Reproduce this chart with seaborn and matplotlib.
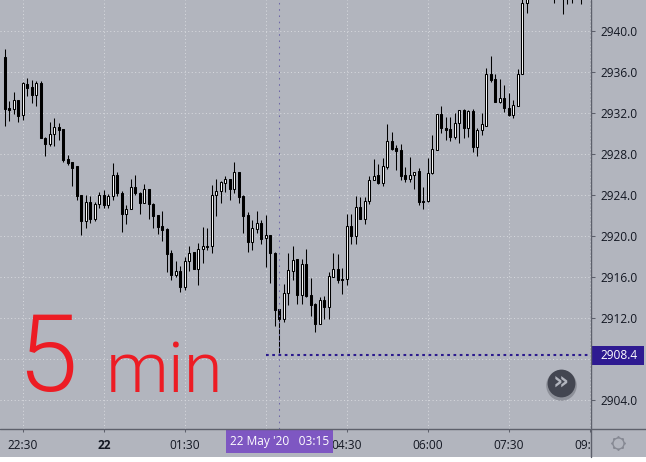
import numpy as np
import pandas as pd
import seaborn as sns
import matplotlib.pyplot as plt
from matplotlib.lines import Line2D
from matplotlib.patches import Rectangle

# OHLC (5 min), swiece poza gorna krawedzia to szacunek
opens = [2937.5, 2932.5, 2932.4, 2933.3, 2931.8, 2934.8, 2934.6, 2933.8, 2934.9, 2929.6,
         2929.0, 2930.0, 2930.7, 2930.5, 2927.5, 2927.2, 2926.8, 2924.0, 2921.5, 2923.3,
         2921.7, 2923.1, 2924.0, 2923.0, 2923.9, 2926.0, 2924.2, 2922.2, 2922.7, 2924.8,
         2924.2, 2923.2, 2924.6, 2923.1, 2922.1, 2921.0, 2920.7, 2918.4, 2916.2, 2916.6,
         2915.0, 2917.6, 2918.5, 2916.8, 2918.8, 2919.0, 2919.0, 2924.0, 2924.4, 2925.2,
         2925.6, 2924.6, 2926.3, 2923.9, 2922.1, 2919.4, 2920.7, 2921.3, 2919.8, 2920.1,
         2918.4, 2912.9, 2911.9, 2914.5, 2916.6, 2917.8, 2914.3, 2917.3, 2914.3, 2913.4,
         2911.4, 2913.8, 2913.1, 2916.0, 2916.8, 2915.8, 2915.8, 2921.0, 2920.0, 2922.8,
         2921.7, 2923.4, 2925.5, 2926.0, 2925.2, 2926.8, 2929.3, 2928.6, 2928.4, 2926.0,
         2925.6, 2926.0, 2926.4, 2923.4, 2923.4, 2926.2, 2928.4, 2931.9, 2930.6, 2930.5,
         2929.7, 2931.0, 2932.3, 2930.6, 2932.2, 2928.7, 2930.4, 2930.8, 2935.8, 2935.3,
         2933.1, 2933.5, 2932.5, 2931.8, 2932.7, 2935.8, 2942.8, 2943.6, 2944.8, 2944.4,
         2944.0, 2944.5, 2943.8, 2943.4, 2943.9, 2943.3, 2943.7, 2943.5, 2944.0]
closes = [2932.4, 2932.3, 2933.3, 2931.7, 2934.9, 2934.5, 2933.8, 2934.9, 2929.6, 2929.0,
          2930.0, 2930.7, 2930.4, 2927.4, 2927.1, 2926.7, 2923.9, 2921.5, 2923.3, 2921.7,
          2923.1, 2924.0, 2923.0, 2923.9, 2926.0, 2924.2, 2922.2, 2922.7, 2924.8, 2924.2,
          2923.2, 2924.6, 2923.1, 2922.0, 2920.9, 2920.6, 2918.3, 2916.2, 2916.6, 2915.0,
          2917.6, 2918.4, 2916.8, 2918.8, 2919.0, 2918.9, 2924.0, 2924.4, 2925.3, 2925.6,
          2924.6, 2926.3, 2923.8, 2922.0, 2919.4, 2920.8, 2921.3, 2919.7, 2920.1, 2918.4,
          2912.8, 2911.9, 2914.5, 2916.7, 2917.7, 2914.3, 2917.3, 2914.2, 2913.3, 2911.4,
          2913.8, 2913.1, 2916.1, 2916.8, 2915.7, 2915.7, 2921.0, 2920.0, 2922.8, 2921.7,
          2923.4, 2925.5, 2925.9, 2925.2, 2926.8, 2929.3, 2928.5, 2928.3, 2925.9, 2925.6,
          2926.0, 2926.3, 2923.3, 2923.3, 2926.2, 2928.5, 2931.9, 2930.6, 2930.4, 2929.7,
          2931.0, 2932.3, 2930.6, 2932.2, 2928.7, 2930.4, 2930.9, 2935.8, 2935.2, 2933.1,
          2933.5, 2932.5, 2931.8, 2932.8, 2935.8, 2942.8, 2943.6, 2944.8, 2944.4, 2944.0,
          2944.5, 2943.8, 2943.4, 2943.9, 2943.3, 2943.7, 2943.5, 2944.0, 2943.4]
highs = [2938.3, 2933.2, 2934.1, 2933.3, 2935.0, 2935.4, 2935.2, 2935.1, 2935.1, 2929.7,
         2931.1, 2931.5, 2931.0, 2930.5, 2927.9, 2927.2, 2926.8, 2924.0, 2924.0, 2923.9,
         2923.3, 2924.3, 2924.5, 2924.1, 2927.1, 2926.3, 2924.4, 2923.0, 2925.6, 2926.0,
         2924.3, 2925.1, 2924.6, 2923.2, 2922.1, 2922.5, 2920.8, 2918.7, 2917.6, 2917.1,
         2918.0, 2919.0, 2918.5, 2919.3, 2920.9, 2920.8, 2925.0, 2925.6, 2925.4, 2925.9,
         2925.6, 2927.2, 2926.3, 2924.0, 2922.4, 2921.6, 2922.5, 2921.6, 2922.1, 2920.1,
         2918.5, 2912.9, 2915.3, 2918.4, 2919.0, 2917.8, 2917.8, 2918.8, 2915.9, 2913.5,
         2914.1, 2914.2, 2916.5, 2918.4, 2918.3, 2916.9, 2922.2, 2922.2, 2923.9, 2923.8,
         2923.8, 2925.9, 2927.5, 2927.0, 2927.6, 2930.9, 2930.2, 2928.9, 2929.0, 2926.8,
         2927.7, 2926.3, 2926.7, 2924.8, 2927.6, 2929.9, 2931.9, 2932.7, 2931.6, 2931.6,
         2932.0, 2932.3, 2932.4, 2932.3, 2932.4, 2930.6, 2932.0, 2936.4, 2937.6, 2935.8,
         2935.3, 2934.8, 2934.0, 2933.3, 2936.3, 2943.1, 2944.4, 2945.2, 2945.6, 2945.1,
         2944.8, 2945.0, 2944.6, 2944.2, 2944.5, 2944.0, 2944.3, 2944.4, 2944.6]
lows = [2930.8, 2931.2, 2931.9, 2931.1, 2931.3, 2933.7, 2933.0, 2932.7, 2929.6, 2927.8,
        2928.8, 2928.8, 2929.4, 2927.2, 2926.9, 2924.9, 2923.5, 2920.1, 2920.8, 2921.3,
        2921.5, 2922.8, 2922.8, 2922.8, 2923.5, 2923.9, 2920.4, 2921.2, 2922.7, 2924.0,
        2922.2, 2923.2, 2921.7, 2920.8, 2920.2, 2919.5, 2916.5, 2915.7, 2916.0, 2914.6,
        2914.8, 2916.6, 2916.8, 2915.2, 2917.4, 2918.7, 2918.4, 2922.0, 2923.2, 2924.3,
        2923.5, 2924.2, 2923.2, 2920.3, 2918.5, 2918.7, 2920.3, 2919.2, 2917.0, 2915.4,
        2911.2, 2908.4, 2911.6, 2913.3, 2915.7, 2913.4, 2913.4, 2914.1, 2912.2, 2910.7,
        2911.4, 2911.9, 2911.9, 2916.0, 2915.4, 2914.4, 2915.2, 2919.2, 2919.2, 2921.7,
        2921.2, 2923.1, 2925.5, 2925.1, 2924.9, 2926.6, 2928.4, 2926.5, 2925.5, 2925.3,
        2925.3, 2924.6, 2923.0, 2922.7, 2923.3, 2926.1, 2928.4, 2930.1, 2929.4, 2929.3,
        2929.5, 2929.1, 2929.6, 2929.7, 2928.2, 2927.8, 2929.9, 2930.8, 2935.0, 2933.1,
        2933.0, 2932.1, 2931.7, 2931.5, 2932.7, 2935.8, 2941.8, 2943.3, 2944.2, 2943.6,
        2943.3, 2943.4, 2942.8, 2943.1, 2941.7, 2942.7, 2942.8, 2943.1, 2942.7]

time_ticks = [4, 22, 40, 58, 76, 94, 112, 130]
# 03:00 i 2908.0 sa zasloniete przez etykiety krzyzyka, wiec zostaja puste
time_labels = ["22:30", "22", "01:30", "", "04:30", "06:00", "07:30", "09:00"]
price_ticks = [2904, 2908, 2912, 2916, 2920, 2924, 2928, 2932, 2936, 2940]
price_labels = ["2904.0", "", "2912.0", "2916.0", "2920.0", "2924.0", "2928.0", "2932.0", "2936.0", "2940.0"]
cross_bar = 61
cross_price = 2908.4
cross_date = "22 May '20   03:15"
cross_start = 58

BG = "#b2b5be"
GRID = "#d6d8dd"
AXIS = "#5d606b"
TEXT = "#131722"
RED = "#ed1c24"

sns.set_theme(style="ticks")
plt.rcParams["font.family"] = ["Open Sans", "DejaVu Sans"]

W, H = 646, 462
fig = plt.figure(figsize=(W / 100, H / 100), dpi=100, facecolor="white")
ax = fig.add_axes([0, 1 - 429 / H, 591 / W, 429 / H], facecolor=BG)
fig.add_artist(Rectangle((0, 1 - 457 / H), 1, 457 / H, transform=fig.transFigure,
                         facecolor=BG, edgecolor="none", zorder=-1))

df = pd.DataFrame({"bar": np.arange(len(opens)), "open": opens, "close": closes,
                   "high": highs, "low": lows})

# knoty
wicks = df.melt(id_vars="bar", value_vars=["high", "low"], value_name="price")
sns.lineplot(data=wicks, x="bar", y="price", units="bar", estimator=None, color="black",
             lw=0.75, solid_capstyle="butt", legend=False, ax=ax, zorder=3)

# korpusy
up = df["close"] >= df["open"]
ax.bar(df["bar"], (df["close"] - df["open"]).abs(), bottom=df[["open", "close"]].min(axis=1),
       width=2 / 4.5, color=np.where(up, "white", "black").tolist(), edgecolor="black",
       linewidth=0.75, zorder=3.2)

ax.set_xlim(-4.9 / 4.5, (591 - 4.9) / 4.5)
ax.set_ylim(2940 - (429 - 31.2) / 10.25, 2940 + 31.2 / 10.25)
ax.set_xlabel("")
ax.set_ylabel("")

ax.set_xticks(time_ticks)
ax.set_xticklabels(time_labels)
ax.yaxis.tick_right()
ax.set_yticks(price_ticks)
ax.set_yticklabels(price_labels)
ax.tick_params(axis="x", length=2.5, width=0.75, color=AXIS, labelcolor=TEXT, labelsize=8.6, pad=5)
ax.tick_params(axis="y", length=3, width=0.75, color=AXIS, labelcolor=TEXT, labelsize=8.6, pad=3.5)
ax.grid(True, color=GRID, lw=0.75, linestyle=(0, (1, 2.4)), zorder=1)
ax.set_axisbelow(True)
for s in ["left", "top", "right", "bottom"]:
    ax.spines[s].set_visible(False)

labels = ax.get_xticklabels()
labels[1].set_fontweight("bold")
labels[-1].set_clip_on(True)
labels[-1].set_clip_path(Rectangle((0, -1), 1, 2, transform=ax.transAxes))

# ramka osi
for xs, ys in [((0, 1), (1 - 429 / H, 1 - 429 / H)), ((591 / W, 591 / W), (1 - 457 / H, 1))]:
    fig.add_artist(Line2D(xs, ys, transform=fig.transFigure, color=AXIS, lw=1.0, zorder=0.5))

# krzyzyk
ax.axvline(cross_bar, color="#6f68a8", lw=0.75, linestyle=(0, (1.5, 4.5)), zorder=4)
ax.hlines(cross_price, cross_start, ax.get_xlim()[1], color="#2b1a8e", lw=1.5,
          linestyle=(0, (1.3, 1.7)), zorder=4)

# etykiety krzyzyka
ytr = ax.get_yaxis_transform()
xtr = ax.get_xaxis_transform()
ax.add_patch(Rectangle((1, cross_price - 0.92), 53 / 591, 1.84, transform=ytr, clip_on=False,
                       facecolor="#2e1a91", edgecolor="none", zorder=6))
ax.text(1 + 9 / 591, cross_price - 0.03, f"{cross_price:.1f}", transform=ytr, color="white", fontsize=8.6,
        va="center", ha="left", zorder=7, clip_on=False)
ax.add_patch(Rectangle((cross_bar - 53.5 / 4.5, -24 / 429), 107 / 4.5, 24 / 429, transform=xtr, clip_on=False,
                       facecolor="#7e57c2", edgecolor="none", zorder=6))
ax.text(cross_bar, -12 / 429, cross_date, transform=xtr, color="white", fontsize=8.6, ha="center",
        va="center", zorder=7, clip_on=False)

# odrecznie dopisane "5 min"
ax.text(2.7, 2904.9, "5", color=RED, fontsize=78, family="Roboto", fontweight=300, va="baseline", zorder=5)
ax.text(22.5, 2904.8, "min", color=RED, fontsize=51, family="Roboto", fontweight=300, va="baseline", zorder=5)

# przycisk przewijania
bx, by = 560.7 / W, 1 - 383 / H
fig.add_artist(Line2D([bx], [by - 1.5 / H], transform=fig.transFigure, marker="o", ms=22, mec="none",
                      mfc="#4a4c55", alpha=0.35, zorder=2))
fig.add_artist(Line2D([bx], [by], transform=fig.transFigure, marker="o", ms=20, mec="none",
                      mfc="#434651", zorder=2.1))
fig.text(bx, by, "»", color="#b2b5be", fontsize=18, fontweight="bold", ha="center", va="center",
         family="DejaVu Sans", zorder=2.2)

# ikona ustawien
gx, gy = 618 / W, 1 - 443 / H
fig.add_artist(Line2D([gx], [gy], transform=fig.transFigure, marker=(8, 2, 0), ms=10, mec="#868993",
                      mew=1.2, zorder=2))
fig.add_artist(Line2D([gx], [gy], transform=fig.transFigure, marker="o", ms=8, mfc=BG, mec="#868993",
                      mew=1.0, zorder=2.1))

plt.savefig("out.png", dpi=100, facecolor=fig.get_facecolor())
plt.close()
